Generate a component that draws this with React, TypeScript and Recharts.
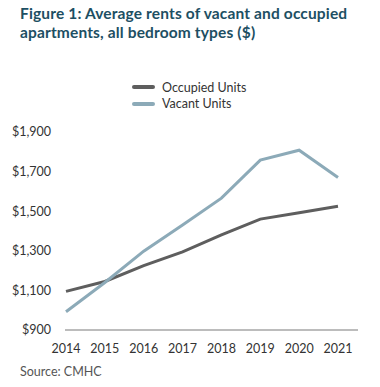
import { LineChart, Line, XAxis, YAxis } from "recharts";

const years = ["2014", "2015", "2016", "2017", "2018", "2019", "2020", "2021"];
const occupied = [1095, 1145, 1225, 1295, 1380, 1460, 1492, 1525];
const vacant = [992, 1140, 1298, 1430, 1566, 1758, 1808, 1670];
const yTicks = [900, 1100, 1300, 1500, 1700, 1900];

const series = [
  { key: "occupied", name: "Occupied Units", color: "#5e5e5e" },
  { key: "vacant", name: "Vacant Units", color: "#8caab8" },
];

const data = years.map((y, i) => ({ year: y, occupied: occupied[i], vacant: vacant[i] }));

const font = "Lato, 'Open Sans', sans-serif";

export default function App() {
  return (
    <div style={{ position: "absolute", left: 0, top: 0, width: 380, height: 387, background: "#fff", fontFamily: font }}>
      <div style={{ position: "absolute", left: 20, top: 4, color: "#1d4f63", fontWeight: 700, fontSize: 15.5, lineHeight: "18.5px", letterSpacing: 0.15 }}>
        Figure 1: Average rents of vacant and occupied
        <br />
        apartments, all bedroom types ($)
      </div>
      <div style={{ position: "absolute", left: 132, top: 79 }}>
        {series.map(s => (
          <div key={s.key} style={{ display: "flex", alignItems: "center", height: 16.5 }}>
            <div style={{ width: 23, height: 4, background: s.color, borderRadius: 2, marginRight: 7 }} />
            <span style={{ fontSize: 12.5, color: "#333" }}>{s.name}</span>
          </div>
        ))}
      </div>
      <LineChart width={380} height={387} data={data} margin={{ top: 132, right: 22, bottom: 27, left: 0 }}>
        <XAxis
          dataKey="year"
          height={30}
          padding={{ left: 1, right: 20 }}
          tickLine={false}
          axisLine={{ stroke: "#a6a6a6", strokeWidth: 1.5 }}
          tick={{ fontSize: 12.5, fill: "#333", fontFamily: font }}
          tickMargin={8}
          interval={0}
        />
        <YAxis
          width={65}
          domain={[900, 1900]}
          ticks={yTicks}
          axisLine={false}
          tickLine={false}
          tickMargin={8}
          tick={{ fontSize: 12.5, fill: "#333", fontFamily: font }}
          tickFormatter={(v: number) => "$" + v.toLocaleString("en-US")}
        />
        {series.map(s => (
          <Line
            key={s.key}
            dataKey={s.key}
            name={s.name}
            stroke={s.color}
            strokeWidth={3}
            dot={false}
            type="linear"
            isAnimationActive={false}
          />
        ))}
      </LineChart>
      <div style={{ position: "absolute", left: 20, top: 364, fontSize: 12.5, color: "#555" }}>Source: CMHC</div>
    </div>
  );
}
